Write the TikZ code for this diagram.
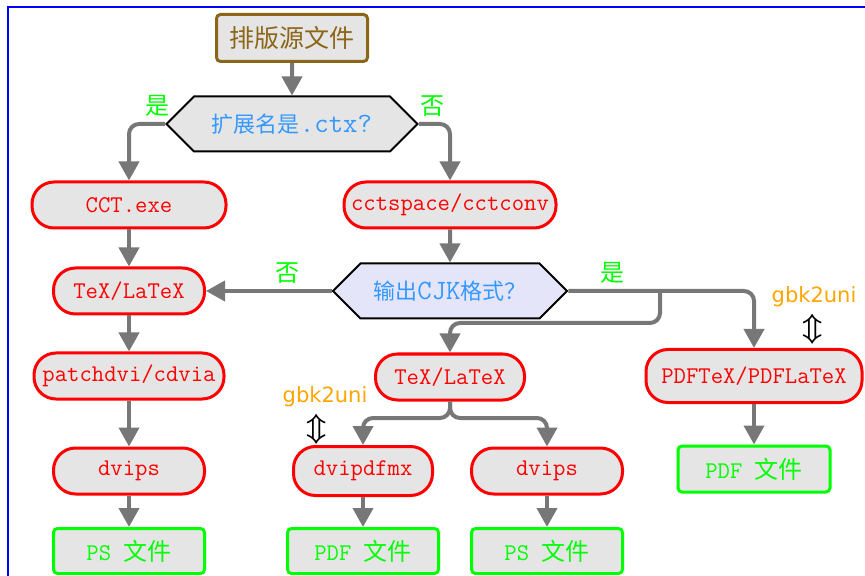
\documentclass[tikz,border=0pt]{standalone}
\usepackage{fontspec}
\usetikzlibrary{arrows.meta,shapes.symbols}
\newfontfamily\cjk{Noto Sans CJK SC}
\newfontfamily\gbkfont{DejaVu Sans}
\definecolor{boxgray}{RGB}{229,229,229}
\definecolor{askblue}{RGB}{229,229,250}
\definecolor{srcbrown}{RGB}{140,102,24}
\definecolor{qblue}{RGB}{51,153,255}
\definecolor{flowgray}{RGB}{119,119,119}
\definecolor{tipgreen}{RGB}{0,255,0}
\definecolor{gbkorange}{RGB}{255,165,0}
\newcommand{\zh}[1]{{\cjk #1}}
\newcommand{\zhs}[1]{{\cjk\fontsize{11}{13}\selectfont #1}}

\begin{document}
\begin{tikzpicture}[x=0.5pt,y=-0.5pt,
  every node/.style={align=center,inner sep=0pt},
  source/.style={rectangle,rounded corners=2pt,draw=srcbrown,line width=1.5pt,fill=boxgray,
    text=srcbrown,font=\cjk\fontsize{12.5}{14}\selectfont,minimum width=75.5pt,minimum height=23.5pt},
  pill/.style={rectangle,rounded corners=11pt,draw=red,line width=1.5pt,fill=boxgray,
    text=red,font=\ttfamily\fontsize{12}{14}\selectfont,minimum height=23pt},
  result/.style={rectangle,rounded corners=2pt,draw=tipgreen,line width=1.5pt,fill=boxgray,
    text=tipgreen,font=\ttfamily\fontsize{12}{14}\selectfont,minimum width=75.5pt,minimum height=22.5pt},
  ask/.style={signal,signal to=west and east,signal pointer angle=90,draw=black,line width=1pt,
    fill=boxgray,text=qblue,font=\ttfamily\fontsize{14}{16}\selectfont,minimum height=27.5pt},
  flow/.style={draw=flowgray,line width=2pt,rounded corners=5pt,-{Triangle[width=10pt,length=9.5pt]}},
  yesno/.style={text=tipgreen,font=\cjk\fontsize{12}{14}\selectfont},
  gbk/.style={text=gbkorange,font=\gbkfont\fontsize{10.5}{12}\selectfont},
  updown/.style={font=\fontsize{14}{14}\selectfont\boldmath}]
  \useasboundingbox(0,0)rectangle(865,576);
  \draw[blue,line width=1pt](8,576)--(8,7)--(865,7);
  % boxes
  \node[source](src)at(292,38){排版源文件};
  \node[ask,minimum width=125.5pt](ext)at(292,124){\zhs{扩展名是}.ctx?};
  \node[pill,minimum width=97pt](cct)at(129,205){CCT.exe};
  \node[pill,minimum width=106pt](conv)at(450,205){cctspace/cctconv};
  \node[pill,minimum width=75.5pt](texl)at(129,291){TeX/LaTeX};
  \node[ask,fill=askblue,minimum width=117pt](cjk)at(450,291){\zhs{输出}CJK\zhs{格式？}};
  \node[pill,minimum width=95pt](patch)at(129,376){patchdvi/cdvia};
  \node[pill,minimum width=74.5pt](texm)at(450,377){TeX/LaTeX};
  \node[pill,minimum width=108pt,minimum height=26.5pt](pdftex)at(754,376){PDFTeX/PDFLaTeX};
  \node[pill,minimum width=75.5pt](dvipsl)at(129,471){dvips};
  \node[pill,minimum width=69.5pt,minimum height=24.5pt](dvipdfmx)at(363,471){dvipdfmx};
  \node[pill,minimum width=75.5pt](dvipsm)at(547,471){dvips};
  \node[result](psl)at(129,551){PS \zh{文件}};
  \node[result](pdfm)at(363,551){PDF \zh{文件}};
  \node[result](psm)at(547,551){PS \zh{文件}};
  \node[result,minimum width=76pt,minimum height=23pt](pdfr)at(754,469){PDF \zh{文件}};
  % labels
  \node[yesno](yes1)at(157,106){是};
  \node[yesno](no1)at(432,106){否};
  \node[yesno](no2)at(287,273){否};
  \node[yesno](yes2)at(612,273){是};
  \node[gbk](gbkr)at(814,297){gbk2uni};
  \node[updown](updr)at(813,329){$\Updownarrow$};
  \node[gbk](gbkl)at(325,397){gbk2uni};
  \node[updown](updl)at(317,429){$\Updownarrow$};
  % arrows
  \coordinate(fork)at(660,291);
  \coordinate(split)at(450,418);
  \foreach \a/\b in{src/ext,cct/texl,texl/patch,patch/dvipsl,dvipsl/psl,conv/cjk,dvipdfmx/pdfm,dvipsm/psm,pdftex/pdfr}
    \draw[flow](\a)--(\b);
  \draw[flow](ext.west)-|(cct.north);
  \draw[flow](ext.east)-|(conv.north);
  \draw[flow](cjk.west)--(texl.east);
  \draw[flow](cjk.east)-|(pdftex.north);
  \draw[flow](fork)--++(0,32)-|(texm.north);
  \draw[flow](texm.south)--(split)-|(dvipdfmx.north);
  \draw[flow](texm.south)--(split)-|(dvipsm.north);
\end{tikzpicture}
\end{document}
